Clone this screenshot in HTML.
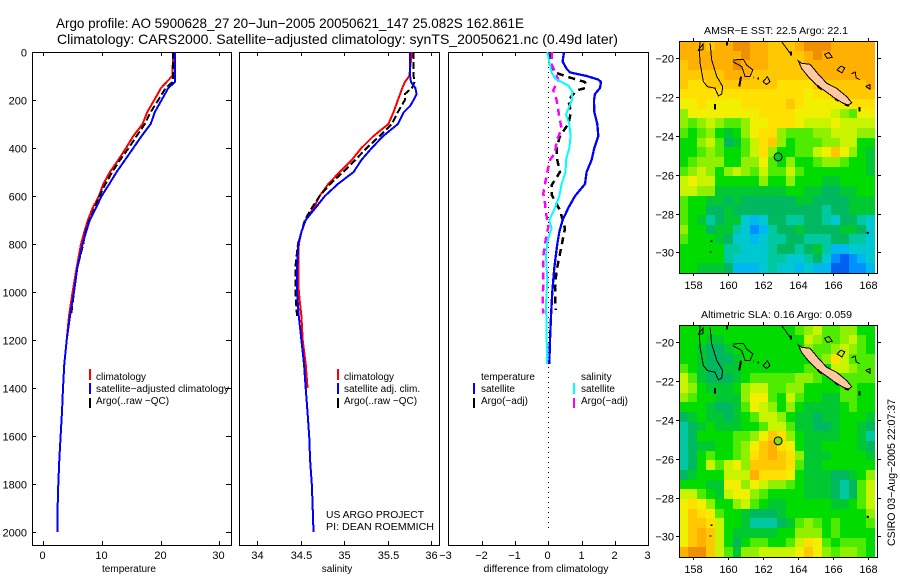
<!DOCTYPE html>
<html>
<head>
<meta charset="utf-8">
<title>Argo profile</title>
<style>
html,body{margin:0;padding:0;background:#fff;}
svg{display:block;font-family:"Liberation Sans",sans-serif;fill:#000;}
text{font-size:11px;}
.t{font-size:14px;}
.l{font-size:10px;}
</style>
</head>
<body>
<svg id="chart" xmlns="http://www.w3.org/2000/svg" width="900" height="580" viewBox="0 0 900 580">
<text class="t" x="56" y="28" textLength="468" lengthAdjust="spacingAndGlyphs">Argo profile: AO 5900628_27 20−Jun−2005 20050621_147 25.082S 162.861E</text>
<text class="t" x="57" y="44" textLength="561" lengthAdjust="spacingAndGlyphs">Climatology: CARS2000. Satellite−adjusted climatology: synTS_20050621.nc (0.49d later)</text>

<text x="129" y="572" text-anchor="middle" class="l">temperature</text>
<text x="337" y="572" text-anchor="middle" class="l">salinity</text>
<text x="546" y="572" text-anchor="middle" class="l" textLength="125" lengthAdjust="spacingAndGlyphs">difference from climatology</text>

<g class="legend">
<rect x="89" y="369" width="2" height="11" fill="#f00"/>
<rect x="89" y="383" width="2" height="11" fill="#00f"/>
<rect x="89" y="398" width="2" height="10" fill="#000"/>
<text class="l" x="96" y="380">climatology</text>
<text class="l" x="96" y="392" textLength="133" lengthAdjust="spacingAndGlyphs">satellite−adjusted climatology</text>
<text class="l" x="96" y="404">Argo(..raw −QC)</text>
</g>
<g>
<rect x="337" y="369" width="2" height="11" fill="#f00"/>
<rect x="337" y="383" width="2" height="11" fill="#00f"/>
<rect x="337" y="398" width="2" height="10" fill="#000"/>
<text class="l" x="344" y="380">climatology</text>
<text class="l" x="344" y="392">satellite adj. clim.</text>
<text class="l" x="344" y="404">Argo(..raw −QC)</text>
<text class="l" x="326" y="518" textLength="98" lengthAdjust="spacingAndGlyphs">US ARGO PROJECT</text>
<text class="l" x="326" y="530" textLength="108" lengthAdjust="spacingAndGlyphs">PI: DEAN ROEMMICH</text>
</g>
<g>
<rect x="473" y="383" width="2" height="11" fill="#00f"/>
<rect x="473" y="398" width="2" height="10" fill="#000"/>
<rect x="573" y="383" width="2" height="11" fill="#0ff"/>
<rect x="573" y="398" width="2" height="10" fill="#f0f"/>
<text class="l" x="481" y="380">temperature</text>
<text class="l" x="481" y="392">satellite</text>
<text class="l" x="481" y="404">Argo(−adj)</text>
<text class="l" x="581" y="380">salinity</text>
<text class="l" x="581" y="392">satellite</text>
<text class="l" x="581" y="404">Argo(−adj)</text>
</g>

<text class="l" x="704" y="34" textLength="144" lengthAdjust="spacingAndGlyphs">AMSR−E SST: 22.5 Argo: 22.1</text>
<text class="l" x="701" y="318" textLength="151" lengthAdjust="spacingAndGlyphs">Altimetric SLA: 0.16 Argo: 0.059</text>
<text transform="translate(895,546) rotate(-90)" x="0" y="0" textLength="147" lengthAdjust="spacingAndGlyphs">CSIRO 03−Aug−2005 22:07:37</text>
</svg>
<script>
// ---- profile data ----
const tempClimDepth = [0,100,125,150,200,250,300,350,400,450,500,550,600,650,700,750,800,900,1000,1100,1200];
const tempClimValue = [22.16,21.99,21.02,20.06,18.92,17.73,16.93,15.34,14.09,12.78,11.36,10.23,9.49,8.41,7.61,6.99,6.42,5.68,5.0,4.38,3.98];
const tempSatDepth = [0,125,150,200,250,300,350,400,450,500,550,600,650,700,750,800,900,1000,1100,1200,1300,1400,1500,1600,1700,1800,1900,2000];
const tempSatValue = [22.44,22.44,21.3,20.17,19.03,18.3,16.76,15.34,13.92,12.5,11.25,9.94,8.98,7.95,7.27,6.7,5.8,5.23,4.55,3.98,3.58,3.35,3.18,2.95,2.73,2.56,2.44,2.39];
const tempArgoDepth = [0,100,125,150,200,250,300,350,400,450,500,550,600,650,700,750,800,900,1000,1100];
const tempArgoValue = [22.1,22.1,22.05,20.85,19.6,18.3,17.3,15.9,14.55,13.07,11.75,10.6,9.55,8.8,7.84,7.2,6.8,5.8,5.23,4.72];

const salClimDepth = [0,100,125,150,200,250,300,350,400,450,500,550,600,650,700,750,800,900,1000,1100,1200,1300,1400];
const salClimValue = [35.78,35.75,35.7,35.67,35.62,35.57,35.51,35.34,35.2,35.09,34.95,34.82,34.72,34.65,34.56,34.51,34.48,34.475,34.48,34.51,34.525,34.56,34.58];
const salSatDepth = [0,100,125,150,175,200,225,250,300,350,400,450,500,550,600,650,700,750,800,900,1000,1100,1200,1300,1400,1500,1600,1700,1800,1900,2000];
const salSatValue = [35.76,35.76,35.77,35.82,35.835,35.8,35.76,35.69,35.62,35.45,35.32,35.2,35.11,34.93,34.78,34.67,34.56,34.51,34.475,34.46,34.46,34.48,34.51,34.54,34.56,34.58,34.6,34.61,34.63,34.64,34.65];
const salArgoDepth = [0,100,125,150,175,200,250,300,350,400,450,500,550,600,650,700,750,800,900,1000,1100];
const salArgoValue = [35.8,35.8,35.81,35.78,35.7,35.7,35.62,35.55,35.41,35.26,35.13,34.99,34.84,34.72,34.63,34.55,34.51,34.47,34.44,34.44,34.46];

const diffTempSatDepth = [0,40,70,85,100,115,125,150,175,200,250,300,350,400,450,500,550,600,650,700,750,800,900,1000,1100,1200,1300];
const diffTempSatValue = [0.47,0.43,0.55,0.65,1.15,1.5,1.58,1.55,1.4,1.37,1.38,1.47,1.5,1.38,1.3,1.15,1.1,0.8,0.6,0.43,0.33,0.27,0.18,0.12,0.08,0.05,0.03];
const diffTempArgoDepth = [0,50,85,100,115,125,150,160,200,250,300,350,400,450,500,555,595,620,660,735,785,840,910,980,1075];
const diffTempArgoValue = [0.07,0.05,0.2,0.5,0.85,1.1,1.12,0.85,0.6,0.68,0.6,0.35,0.25,0.27,0.35,0.1,0.1,0.2,0.35,0.5,0.43,0.35,0.25,0.2,0.22];
const diffSalSatDepth = [0,40,85,110,125,140,165,200,260,300,350,400,450,500,550,600,650,700,735,790,850,950,1050,1150,1300];
const diffSalSatValue = [-0.03,0.03,0.1,0.2,0.4,0.6,0.72,0.71,0.53,0.63,0.67,0.63,0.53,0.52,0.4,0.33,0.2,0.03,0.1,-0.03,-0.07,-0.03,-0.07,-0.05,-0.04];
const diffSalArgoDepth = [0,50,85,115,160,200,270,320,370,420,450,500,550,590,630,670,730,760,800,850,950,1050,1090];
const diffSalArgoValue = [0.1,0.1,0.2,0.3,0.15,0.25,0.33,0.4,0.25,0.2,0.05,-0.03,-0.1,-0.15,-0.1,-0.07,0,-0.05,-0.1,-0.15,-0.15,-0.17,-0.15];

const depthTicks = [0,200,400,600,800,1000,1200,1400,1600,1800,2000];
const tempTicks = [0,10,20,30];
const salTicks = [34,34.5,35,35.5,36];
const diffTicks = [-3,-2,-1,0,1,2,3];
const lonTicks = [158,160,162,164,166,168];
const latTicks = [-20,-22,-24,-26,-28,-30];

// ---- map data: colour-class per 0.5 degree cell, north to south ----
const sstRows = [
[14,14,14,13,14,14,15,15,14,14,13,13,13,14,15,15,15,14,14,14,14,14],
[14,14,14,14,14,14,14,15,14,14,13,13,13,13,14,15,14,14,14,14,14,14],
[13,14,14,14,14,14,15,14,14,14,13,13,13,13,14,14,14,14,14,14,14,14],
[13,13,13,13,13,14,14,14,13,13,13,13,13,13,13,14,14,14,14,14,14,14],
[13,12,12,13,13,13,13,13,13,13,13,12,12,12,12,13,13,13,13,13,13,14],
[12,12,12,12,12,12,12,12,12,12,12,12,12,12,11,12,12,13,13,13,13,13],
[11,11,12,11,11,11,11,12,12,12,12,12,13,12,11,11,11,11,11,12,12,12],
[9,11,11,11,11,11,11,11,11,12,12,12,12,11,11,11,11,10,9,8,11,11],
[9,8,9,10,9,8,8,9,11,11,12,12,12,11,10,10,10,11,10,10,10,10],
[8,7,8,9,7,6,7,9,11,12,12,9,8,8,8,9,9,10,10,10,9,9],
[7,7,9,10,8,5,6,8,10,12,13,9,7,8,8,8,9,9,10,10,7,7],
[7,7,8,9,8,7,7,8,10,12,9,7,7,8,8,10,11,13,11,9,7,6],
[7,8,9,9,9,7,7,9,9,11,8,7,9,7,7,8,9,9,8,7,7,6],
[8,9,10,9,7,9,10,9,8,10,8,8,10,8,7,7,7,7,7,7,7,6],
[10,11,10,10,7,7,7,7,7,9,7,7,9,7,7,7,6,6,7,7,7,7],
[10,10,9,9,6,6,6,6,6,6,6,6,7,7,6,6,5,5,6,6,7,7],
[8,7,7,6,6,5,6,5,5,5,5,5,5,6,6,5,5,5,5,6,6,6],
[8,7,7,5,5,6,5,5,5,5,5,5,5,5,5,5,4,5,5,6,6,6],
[8,7,6,4,5,6,6,3,2,3,5,5,4,4,5,5,4,3,5,5,4,3],
[9,7,7,5,6,6,4,3,1,2,4,5,5,6,5,5,5,5,6,6,5,3],
[8,7,7,7,6,5,3,3,2,3,4,4,5,5,4,4,4,5,5,4,4,3],
[7,7,7,7,7,4,4,3,3,3,4,5,5,4,5,6,4,2,2,3,3,3],
[7,7,7,7,7,4,3,3,3,3,4,4,3,3,4,5,3,1,0,1,2,3],
[7,7,6,6,6,5,2,2,2,3,4,3,3,2,3,2,2,0,0,1,1,2]
];
const slaRows = [
[7,7,7,7,7,7,7,7,7,7,7,7,7,8,9,10,8,8,9,9,7,7],
[7,7,7,6,6,7,7,7,7,7,7,7,7,7,10,9,8,8,9,10,8,7],
[7,7,6,5,5,6,7,7,7,7,7,7,7,7,9,8,8,9,10,9,8,7],
[7,7,6,5,5,5,6,7,7,7,7,7,7,7,7,8,9,12,10,8,8,8],
[8,7,6,5,5,6,6,7,7,7,7,7,7,7,8,8,7,10,10,9,8,8],
[10,8,6,5,5,5,6,7,8,8,8,8,8,9,9,8,7,7,8,8,8,8],
[10,9,7,6,6,6,7,9,10,10,8,8,9,9,7,7,7,7,8,8,7,7],
[9,8,7,7,6,6,6,9,11,11,8,7,10,8,7,7,6,6,8,8,7,7],
[7,7,7,6,5,5,6,8,11,10,9,7,9,7,6,6,6,6,7,8,7,7],
[5,6,7,6,6,5,6,7,8,10,10,9,7,6,6,5,6,6,7,7,7,6],
[4,5,6,7,6,6,6,7,7,8,10,10,8,6,6,5,5,6,7,7,6,5],
[4,5,7,7,7,7,8,8,9,11,13,12,9,7,6,6,6,6,7,7,6,4],
[4,5,6,6,7,7,8,9,11,13,14,12,11,7,6,6,7,7,7,7,6,5],
[4,5,7,8,7,7,8,9,12,13,14,13,12,9,6,6,6,7,7,7,7,6],
[4,5,7,10,8,10,11,9,13,13,13,13,12,8,6,6,7,7,7,7,7,7],
[5,6,7,7,7,10,10,10,14,12,12,12,11,7,6,6,6,5,5,6,7,9],
[7,7,7,6,6,11,11,9,11,10,9,9,8,7,6,6,6,5,4,5,8,10],
[10,10,8,7,6,10,11,11,9,8,7,7,7,7,6,6,6,5,4,5,8,10],
[11,12,11,9,7,7,9,10,8,7,6,6,7,7,7,7,7,6,6,7,8,10],
[11,13,12,11,8,7,7,6,5,5,5,6,7,7,7,7,7,7,7,7,7,9],
[11,13,13,12,10,7,7,6,4,4,4,5,6,8,9,8,7,8,7,7,7,8],
[11,13,14,13,10,7,6,6,6,6,6,7,7,9,9,9,7,8,7,7,7,7],
[11,13,14,13,10,7,5,7,8,8,7,7,8,10,12,11,8,7,8,8,8,7],
[14,15,15,13,10,8,6,9,9,10,10,10,10,11,13,11,9,8,9,9,8,7]
];
const colourClasses = ["#0060f0","#0090ff","#00b8f0","#00c8d0","#00c8a0","#00b860","#00c830","#00dc00","#50ec00","#90f000","#c8f400","#f0f000","#ffe000","#ffc800","#ffb000","#f09000"];

const newCaledonia = [[164.01,-20.14],[164.2,-20.26],[164.68,-20.31],[165.15,-20.82],[165.63,-21.29],[166.2,-21.55],[166.77,-21.98],[167.05,-22.29],[166.86,-22.41],[166.57,-22.32],[166.1,-22.06],[165.63,-21.75],[165.06,-21.38],[164.58,-20.95],[164.2,-20.52],[164.01,-20.14]];
const reefOutlines = [
[[158.42,-19.14],[158.38,-19.57],[158.42,-20.26],[158.61,-21.2],[158.83,-21.46],[159.27,-21.54],[159.46,-21.94],[159.65,-21.84],[159.71,-21.46],[159.37,-20.94],[159.08,-20.09],[158.99,-19.23]],
[[158.3,-19.6],[158.6,-19.25],[158.6,-19.55],[158.3,-19.6]],
[[160.28,-20.09],[160.88,-20.05],[161.07,-20.34],[161.42,-20.6],[161.26,-20.94],[160.98,-20.94],[160.79,-20.43],[160.28,-20.17]],
[[162.0,-21.2],[162.25,-20.95],[162.4,-21.2],[162.2,-21.35],[162.0,-21.2]],
[[163.07,-19.15],[163.55,-19.75]],
[[165.5,-19.8],[165.75,-19.7],[165.95,-19.95],[165.65,-20.0],[165.5,-19.8]],
[[166.2,-20.6],[166.45,-20.4],[166.65,-20.5],[166.5,-20.75],[166.2,-20.6]],
[[167.05,-20.8],[167.25,-20.7],[167.3,-21.0],[167.5,-21.1]],
[[167.85,-21.45],[168.1,-21.35],[168.1,-21.6],[167.85,-21.45]]
];
const reefSolids = [
[[160.65,-21.45],[160.75,-20.95]],
[[159.27,-22.35],[159.27,-22.65]],
[[159.95,-19.15],[159.95,-19.35]],
[[167.5,-22.5],[167.5,-22.75]],
[[161.45,-21.0],[161.5,-21.0]],
[[161.7,-21.05],[161.78,-21.05]],
[[159.08,-29.38],[159.08,-29.48]],
[[159.02,-29.95],[159.02,-30.02]],
[[167.9,-28.98],[168.02,-29.02]],
[[163.6,-19.65],[163.6,-19.85]],
[[165.1,-21.42],[165.35,-21.62]],
[[166.1,-22.08],[166.3,-22.2]],
[[166.65,-22.38],[166.9,-22.45]]
];
const argoLon = 162.861;
const argoLat = -25.082;

// ---- drawing ----
const svg = document.getElementById('chart');
const NS = 'http://www.w3.org/2000/svg';
function make(tag, attrs, parent){
  const n = document.createElementNS(NS, tag);
  for (const k in attrs) n.setAttribute(k, attrs[k]);
  (parent || svg).appendChild(n);
  return n;
}
const depthY = d => 52 + d * 0.24;
const tempX = v => 43.3 + v * 5.867;
const salX = v => 257 + (v - 34) * 87;
const diffX = v => 548.3 + v * 33.33;

function drawLine(xs, ds, xFn, colour, name, dash, width){
  const pts = xs.map((v, i) => xFn(v).toFixed(1) + ',' + depthY(ds[i]).toFixed(1)).join(' ');
  const line = make('polyline', {points: pts, fill: 'none', stroke: colour, 'stroke-width': width || 2, 'shape-rendering': 'crispEdges'});
  
  
  if (dash) line.setAttribute('stroke-dasharray', dash);
}

function panelFrame(x, w, name){
  const r = make('rect', {x: x + .5, y: 52.5, width: w, height: 493, fill: 'none', stroke: '#000', 'stroke-width': 1, 'shape-rendering': 'crispEdges'});
  
  
}
function tick(x1, y1, x2, y2){
  const t = make('line', {x1: x1, y1: y1, x2: x2, y2: y2, stroke: '#000', 'stroke-width': 1, 'shape-rendering': 'crispEdges'});
  
  
}
function label(x, y, str, anchor, name){
  const t = make('text', {x: x, y: y, 'text-anchor': anchor});
  t.textContent = str;
  
  
}
const minus = v => String(v).replace('-', '\u2212');

panelFrame(32, 199, 'temperature-panel-frame');
panelFrame(239, 200, 'salinity-panel-frame');
panelFrame(448, 200, 'difference-panel-frame');

depthTicks.forEach(d => {
  const y = Math.round(depthY(d)) + .5;
  tick(32, y, 36, y);
  tick(226, y, 231, y);
  label(27, y + 4, String(d), 'end', 'depth-tick-label');
});
tempTicks.forEach(v => {
  const x = Math.round(tempX(v)) + .5;
  tick(x, 52, x, 56);
  tick(x, 541, x, 545);
  label(x - 1, 559, String(v), 'middle', 'temperature-tick-label');
});
salTicks.forEach(v => {
  const x = Math.round(salX(v)) + .5;
  tick(x, 52, x, 56);
  tick(x, 541, x, 545);
  label(x, 559, String(v), 'middle', 'salinity-tick-label');
});
diffTicks.forEach(v => {
  const x = Math.round(diffX(v)) + .5;
  tick(x, 52, x, 56);
  tick(x, 541, x, 545);
  label(v === -3 ? x - 3 : x - 1, 559, minus(v), 'middle', 'difference-tick-label');
});

const zero = make('line', {x1: diffX(0), y1: 52, x2: diffX(0), y2: 532, stroke: '#000', 'stroke-width': 1, 'stroke-dasharray': '1 4', 'shape-rendering': 'crispEdges'});



drawLine(tempClimValue, tempClimDepth, tempX, '#f00', 'temperature-climatology-line');
drawLine(tempArgoValue, tempArgoDepth, tempX, '#000', 'temperature-argo-line', '7 3');
drawLine(tempSatValue, tempSatDepth, tempX, '#00f', 'temperature-satellite-line');

drawLine(salClimValue, salClimDepth, salX, '#f00', 'salinity-climatology-line');
drawLine(salArgoValue, salArgoDepth, salX, '#000', 'salinity-argo-line', '7 3');
drawLine(salSatValue, salSatDepth, salX, '#00f', 'salinity-satellite-line');

drawLine(diffTempArgoValue, diffTempArgoDepth, diffX, '#000', 'difference-temperature-argo-line', '7 5', 2.5);
drawLine(diffSalArgoValue, diffSalArgoDepth, diffX, '#f0f', 'difference-salinity-argo-line', '7 5', 2.5);
drawLine(diffTempSatValue, diffTempSatDepth, diffX, '#00f', 'difference-temperature-satellite-line', null, 2.3);
drawLine(diffSalSatValue, diffSalSatDepth, diffX, '#0ff', 'difference-salinity-satellite-line');

function drawMap(rows, top, lat20Y, circleFill, name){
  const height = 232;
  const lonX = lon => 692.7 + (lon - 158) * 17.57;
  const latY = lat => lat20Y + (-20 - lat) * 19.4;
  const left = 679;
  const cols = rows[0].length;
  const cw = 196.3 / cols;
  const ch = height / rows.length;
  const g = make('g', {});
  
  
  rows.forEach((row, r) => row.forEach((v, c) => {
    const x0 = Math.round(left + c * cw), x1 = Math.round(left + (c + 1) * cw);
    const y0 = Math.round(top + r * ch), y1 = Math.round(top + (r + 1) * ch);
    const cell = make('rect', {x: x0, y: y0, width: x1 - x0, height: y1 - y0, fill: colourClasses[v], 'shape-rendering': 'crispEdges'}, g);
    
    
  }));
  const pathPts = pts => pts.map(p => lonX(p[0]).toFixed(1) + ',' + latY(p[1]).toFixed(1)).join(' ');
  reefOutlines.forEach(pts => {
    const o = make('polyline', {points: pathPts(pts), fill: 'none', stroke: '#000', 'stroke-width': 1, 'shape-rendering': 'crispEdges'}, g);
    
    
  });
  const nc = make('polygon', {points: pathPts(newCaledonia), fill: '#ffc8a0', stroke: '#000', 'stroke-width': 1, 'shape-rendering': 'crispEdges'}, g);
  
  
  reefSolids.forEach(pts => {
    const o = make('polyline', {points: pathPts(pts), fill: 'none', stroke: '#000', 'stroke-width': 2, 'shape-rendering': 'crispEdges'}, g);
    
    
  });
  const c = make('circle', {cx: lonX(argoLon), cy: latY(argoLat), r: 4, fill: circleFill, stroke: '#000', 'stroke-width': 1}, g);
  
  
  const f = make('rect', {x: 679.5, y: top + .5, width: 198, height: height, fill: 'none', stroke: '#000', 'stroke-width': 1, 'shape-rendering': 'crispEdges'}, g);
  
  
  lonTicks.forEach(v => {
    const x = Math.round(lonX(v)) + .5;
    tick(x, top - 3, x, top);
    tick(x, top + height, x, top + height + 3);
    label(x, top + height + 16, String(v), 'middle', 'longitude-tick-label');
  });
  latTicks.forEach(v => {
    const y = Math.round(latY(v)) + .5;
    tick(676, y, 679, y);
    tick(878, y, 881, y);
    label(674, y + 4, minus(v), 'end', 'latitude-tick-label');
  });
}
drawMap(sstRows, 41, 58.3, '#00c830', 'sst-map');
drawMap(slaRows, 325, 342.3, '#80e000', 'sla-map');
</script>
</body>
</html>
